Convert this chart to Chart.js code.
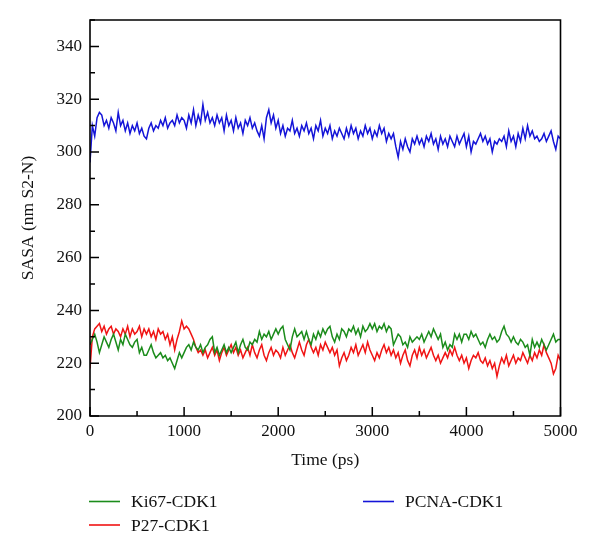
<!DOCTYPE html>
<html>
<head>
<meta charset="utf-8">
<script src="https://cdn.jsdelivr.net/npm/chart.js@4"></script>
<style>
  html, body { margin: 0; padding: 0; background: #ffffff; }
  #wrap { width: 600px; height: 557px; }
</style>
</head>
<body>
<div id="wrap"><canvas id="c" width="600" height="557"></canvas></div>
<script>
// ---- data (SASA, nm S2-N) sampled every 25 ps from 0 to 5000 ps ----
const TIME_STEP = 25;
const seriesNames = ["Ki67-CDK1", "P27-CDK1", "PCNA-CDK1"];
const seriesColors = ["#1b8c1b", "#f01414", "#1414d8"];

const ki67 = [
  227,229,231,228,224,227,230,228,226,229,231,228,225,229,227,231,229,227,226,228,
  229,224,226,223,223,225,227,224,222,223,224,222,223,221,222,220,218,221,224,222,
  224,226,227,225,228,226,225,227,224,226,227,229,230,224,226,223,225,227,224,226,
  224,226,228,224,227,229,226,225,228,227,229,228,232,229,231,230,232,229,231,233,
  231,233,234,229,227,225,230,233,230,231,232,229,232,229,227,231,229,232,230,233,
  231,233,234,230,228,231,229,233,232,230,233,232,234,231,233,230,234,232,233,235,
  233,235,232,234,233,235,232,234,233,227,229,231,230,227,228,226,230,228,229,230,
  229,231,228,230,232,230,233,231,229,231,226,228,225,227,226,231,229,231,228,231,
  231,229,232,230,231,229,227,228,226,229,231,229,230,228,229,232,234,231,230,228,
  230,228,227,229,228,226,227,223,229,226,228,226,229,227,225,227,229,231,228,229,
  229
];

const p27 = [
  218,230,233,234,235,232,234,231,233,234,231,233,232,230,233,231,234,230,233,231,
  232,234,230,233,231,233,230,232,229,233,231,232,229,231,227,230,225,229,232,236,
  233,234,233,231,229,226,224,225,223,225,222,224,226,223,225,221,224,226,223,225,
  227,224,226,223,225,222,224,226,223,227,224,222,225,227,223,221,224,226,223,225,
  224,222,226,223,225,227,224,222,225,228,225,223,227,229,226,224,226,223,227,225,
  228,226,224,226,223,225,219,222,224,221,223,226,224,227,223,225,227,224,228,225,
  223,221,224,222,225,227,224,226,223,225,222,224,220,223,225,221,219,223,225,222,
  226,223,225,222,224,226,223,221,223,220,222,224,222,225,223,226,223,221,223,220,
  222,218,221,223,222,224,221,220,222,219,221,218,220,215,219,222,220,223,219,221,
  223,220,222,221,224,222,220,223,221,224,222,225,223,227,224,222,220,216,218,223,
  221
];

const pcna = [
  296,310,306,313,315,314,310,312,309,313,311,308,315,310,312,308,311,307,310,308,
  311,307,309,306,305,309,311,308,310,309,312,310,313,309,311,312,310,314,311,313,
  312,309,314,311,316,310,314,311,318,312,315,311,313,310,314,311,313,308,314,310,
  312,308,313,309,311,307,312,310,313,309,311,308,306,310,305,313,316,311,314,309,
  312,307,310,306,309,308,312,307,309,306,310,308,311,307,309,305,310,308,312,306,
  309,307,310,305,308,306,309,307,305,309,306,310,307,309,305,308,306,310,307,309,
  305,308,306,310,307,309,304,307,305,307,302,298,304,301,305,302,300,305,303,306,
  303,305,302,306,304,307,303,305,301,306,303,305,302,306,304,302,306,303,305,307,
  302,306,300,304,303,305,307,304,306,303,305,300,304,303,305,304,306,302,308,304,
  306,302,307,304,309,305,310,306,308,305,306,304,305,307,304,306,308,304,301,306,
  305
];

const xTicks = [0, 1000, 2000, 3000, 4000, 5000];
const yTicks = [200, 220, 240, 260, 280, 300, 320, 340];
const X_MIN = 0, X_MAX = 5000, Y_MIN = 200, Y_MAX = 350;

// ---- build datasets ----
const allSeries = [ki67, p27, pcna];
const datasets = allSeries.map((vals, k) => ({
  label: seriesNames[k],
  data: vals.map((v, i) => ({ x: i * TIME_STEP, y: v })),
  borderColor: seriesColors[k],
  backgroundColor: seriesColors[k],
  borderWidth: 1.5,
  pointRadius: 0,
  tension: 0,
  fill: false
}));

const FONT = '"Liberation Serif", "Times New Roman", "DejaVu Serif", serif';

// frame, inward ticks and legend
const decorPlugin = {
  id: 'decor',
  afterDraw(chart) {
    const { ctx, chartArea: a, scales } = chart;
    const xs = scales.x, ys = scales.y;
    ctx.save();
    ctx.strokeStyle = '#000';
    ctx.lineWidth = 1.6;
    // frame
    ctx.beginPath();
    ctx.rect(a.left, a.top, a.right - a.left, a.bottom - a.top);
    ctx.stroke();
    // x ticks (major every 1000, minor every 500)
    ctx.lineWidth = 1.5;
    ctx.beginPath();
    for (let v = X_MIN; v <= X_MAX; v += 500) {
      const px = xs.getPixelForValue(v);
      const len = (v % 1000 === 0) ? 9 : 5;
      ctx.moveTo(px, a.bottom);
      ctx.lineTo(px, a.bottom - len);
    }
    // y ticks (major every 20, minor every 10)
    for (let v = Y_MIN; v <= Y_MAX; v += 10) {
      const py = ys.getPixelForValue(v);
      const len = ((v - Y_MIN) % 20 === 0) ? 9 : 5;
      ctx.moveTo(a.left, py);
      ctx.lineTo(a.left + len, py);
    }
    ctx.stroke();

    // legend: two columns, column-major
    const slots = [
      { lx: 89, ly: 501.5 },
      { lx: 89, ly: 525 },
      { lx: 363, ly: 501.5 }
    ];
    ctx.font = '17.5px ' + FONT;
    ctx.textBaseline = 'middle';
    ctx.textAlign = 'left';
    chart.data.datasets.forEach((ds, i) => {
      const s = slots[i];
      ctx.strokeStyle = ds.borderColor;
      ctx.lineWidth = 1.6;
      ctx.beginPath();
      ctx.moveTo(s.lx, s.ly);
      ctx.lineTo(s.lx + 31, s.ly);
      ctx.stroke();
      ctx.fillStyle = '#111';
      ctx.fillText(ds.label, s.lx + 42, s.ly + 1);
    });
    ctx.restore();
  }
};

new Chart(document.getElementById('c'), {
  type: 'line',
  data: { datasets },
  options: {
    responsive: false,
    devicePixelRatio: 1,
    animation: false,
    layout: { padding: { top: 20, right: 39.5, left: 0, bottom: 0 } },
    plugins: {
      legend: { display: false },
      tooltip: { enabled: false }
    },
    scales: {
      x: {
        type: 'linear',
        min: X_MIN, max: X_MAX,
        afterFit(scale) { scale.height = 141; },
        afterBuildTicks(scale) { scale.ticks = xTicks.map(v => ({ value: v })); },
        grid: { display: false, drawTicks: false },
        border: { display: false },
        ticks: {
          padding: 5,
          color: '#111',
          font: { family: FONT, size: 17 },
          maxRotation: 0,
          callback: v => String(v)
        },
        title: {
          display: true,
          text: 'Time (ps)',
          color: '#111',
          font: { family: FONT, size: 17.5 },
          padding: { top: 0, bottom: 86.5 }
        }
      },
      y: {
        type: 'linear',
        min: Y_MIN, max: Y_MAX,
        afterFit(scale) { scale.width = 90; },
        afterBuildTicks(scale) { scale.ticks = yTicks.map(v => ({ value: v })); },
        grid: { display: false, drawTicks: false },
        border: { display: false },
        ticks: {
          padding: 8,
          color: '#111',
          font: { family: FONT, size: 17 },
          callback: v => String(v)
        },
        title: {
          display: true,
          text: 'SASA (nm S2-N)',
          color: '#111',
          font: { family: FONT, size: 17.5 },
          padding: { top: 17.5, bottom: 0 }
        }
      }
    }
  },
  plugins: [decorPlugin]
});
</script>
</body>
</html>
